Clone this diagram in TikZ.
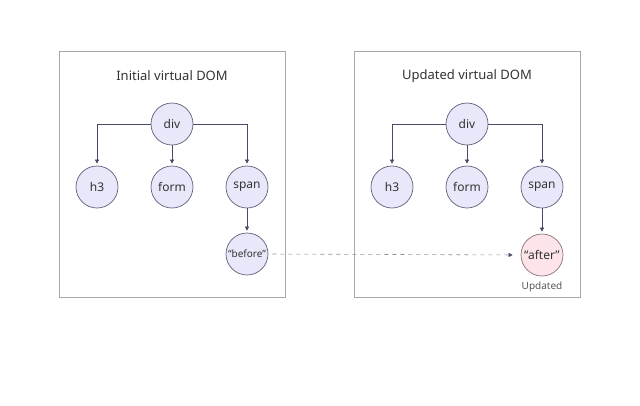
\documentclass[tikz,border=0pt]{standalone}
\usepackage{fontspec}
\setmainfont{Noto Sans}
\usetikzlibrary{arrows.meta, positioning}

\definecolor{nodefill}{HTML}{E8E8FA}
\definecolor{nodeline}{HTML}{5E5E78}
\definecolor{newfill}{HTML}{FCE4E8}
\definecolor{newline}{HTML}{8A7076}
\definecolor{boxline}{HTML}{A8A8A8}
\definecolor{wire}{HTML}{4A4A66}
\definecolor{dashcol}{HTML}{8C8C9C}
\definecolor{textcol}{HTML}{333333}

\begin{document}
\begin{tikzpicture}[x=1pt,y=-1pt,>={Triangle[length=4pt,width=4pt]},
                    shorten >=2pt,font=\fontsize{12}{14}\selectfont,
                    text=textcol]
\tikzset{
  vnode/.style={circle, draw=nodeline, fill=nodefill, line width=0.7pt,
                minimum size=42pt, inner sep=0pt},
  newnode/.style={vnode, draw=newline, fill=newfill},
  panel/.style={draw=boxline, line width=1pt},
  link/.style={->, draw=wire, line width=0.6pt},
}

\useasboundingbox[fill=white] (0,0) rectangle (640,405);

% initial tree
\draw[panel] (59,51) rectangle (285,297);
\node[font=\fontsize{13}{15}\selectfont] (t1) at (172,76) {Initial virtual DOM};

\node[vnode] (div1) at (172,124) {div};
\node[vnode] (h31) at (97,187) {h3};
\node[vnode] (form1) at (172,187) {form};
\node[vnode] (span1) at (247,187) {span};
\node[vnode, font=\fontsize{10}{12}\selectfont] (before) at (247,254) {“before”};

% updated tree
\draw[panel] (354,51) rectangle (580,297);
\node[font=\fontsize{13}{15}\selectfont] (t2) at (467,76) {Updated virtual DOM};

\node[vnode] (div2) at (467,124) {div};
\node[vnode] (h32) at (392,187) {h3};
\node[vnode] (form2) at (467,187) {form};
\node[vnode] (span2) at (542,187) {span};
\node[newnode] (after) at (542,255) {“after”};
\node[font=\fontsize{10}{12}\selectfont, text=black!65, below=2pt of after] (upd) {Updated};

\draw[link] (div1.west) -| (h31.north);
\draw[link] (div1.south) -- (form1.north);
\draw[link] (div1.east) -| (span1.north);
\draw[link] (span1.south) -- (before.north);

\draw[link] (div2.west) -| (h32.north);
\draw[link] (div2.south) -- (form2.north);
\draw[link] (div2.east) -| (span2.north);
\draw[link] (span2.south) -- (after.north);

\draw[-{Triangle[length=4pt,width=4pt,color=wire]}, draw=dashcol, line width=0.6pt,
      dash pattern=on 4pt off 4pt, shorten <=4pt, shorten >=8pt]
  (before.east) -- (after.west);

\end{tikzpicture}
\end{document}
